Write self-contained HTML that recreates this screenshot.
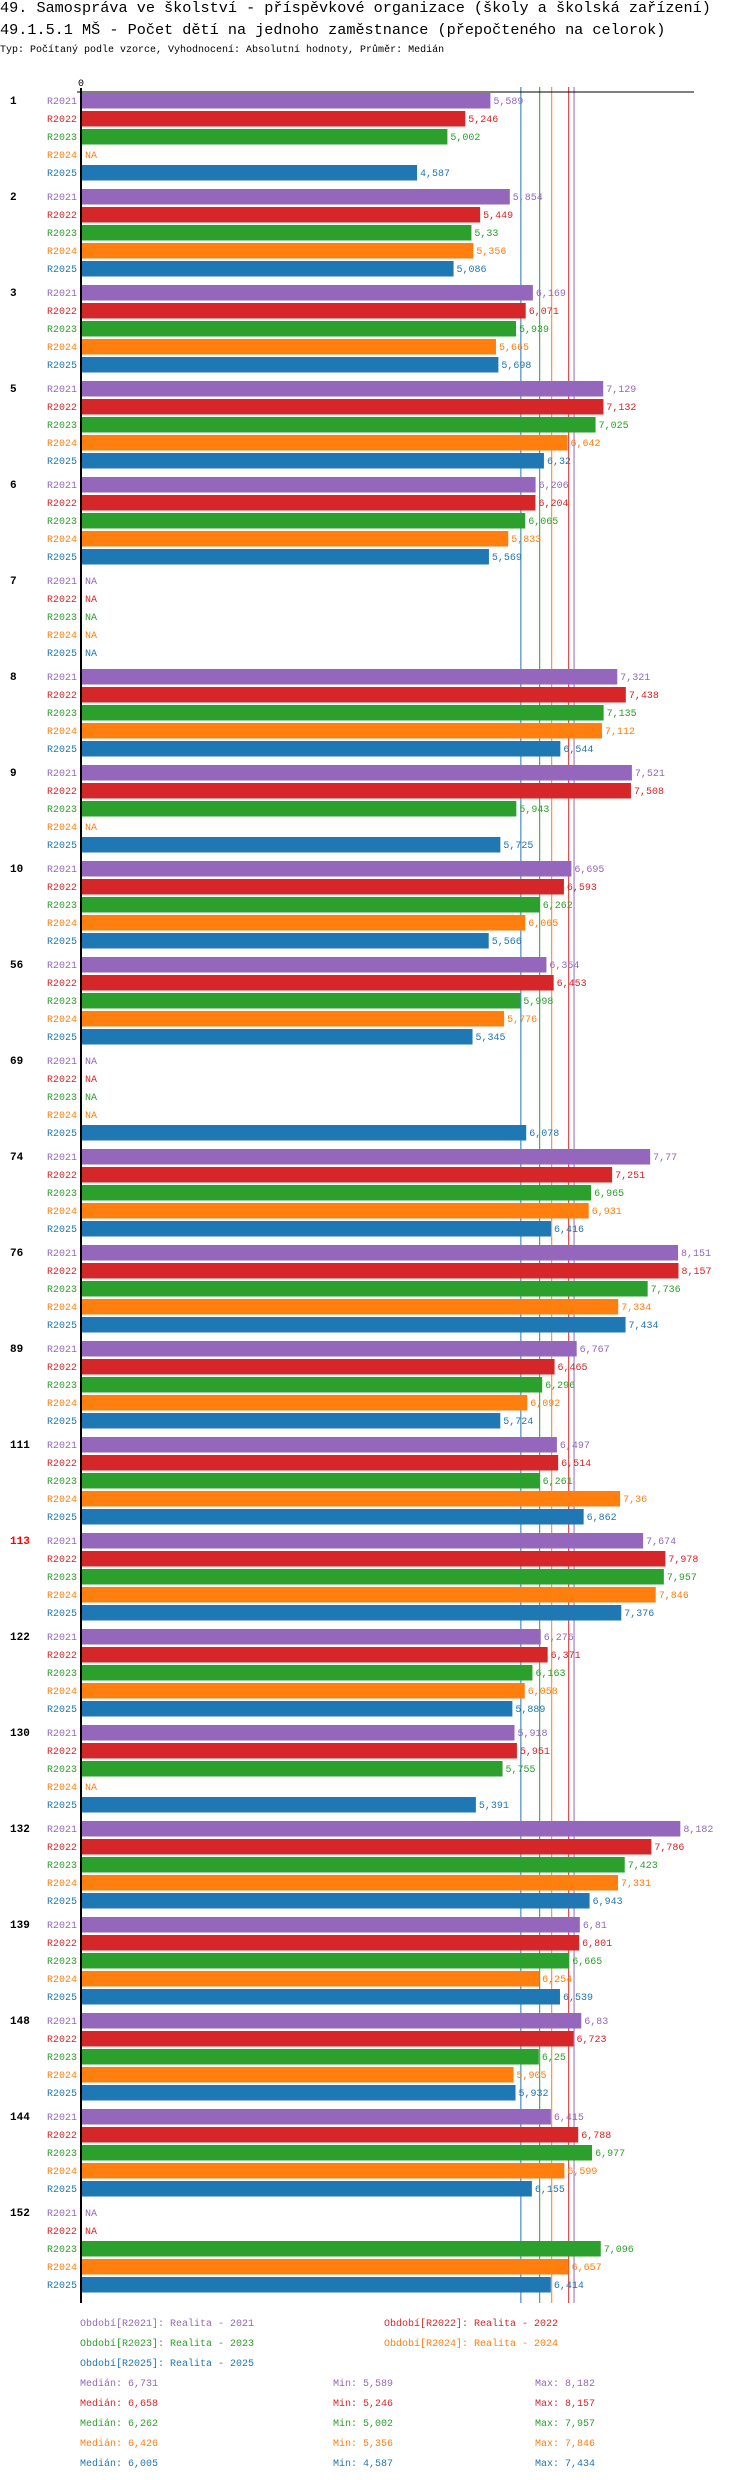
<!DOCTYPE html>
<html><head><meta charset="utf-8">
<style>
body{margin:0;background:#fff;width:750px;height:2480px;overflow:hidden;font-family:"Liberation Mono","DejaVu Sans Mono",monospace;}
.t{position:absolute;left:0;white-space:nowrap;color:#000}
</style></head>
<body>
<div class="t" style="top:-1px;font-size:15.2px;">49. Samospráva ve školství - příspěvkové organizace (školy a školská zařízení)</div>
<div class="t" style="top:21px;font-size:15.2px;">49.1.5.1 MŠ - Počet dětí na jednoho zaměstnance (přepočteného na celorok)</div>
<div class="t" style="top:45px;font-size:10px;">Typ: Počítaný podle vzorce, Vyhodnocení: Absolutní hodnoty, Průměr: Medián</div>
<svg id="chart" width="750" height="2480" style="position:absolute;left:0;top:0" font-family="Liberation Mono, monospace" font-size="10"></svg>
<script>
const groups=["1","2","3","5","6","7","8","9","10","56","69","74","76","89","111","113","122","130","132","139","148","144","152"];
const seriesNames=["R2021","R2022","R2023","R2024","R2025"];
const colors=["#9467bd","#d62728","#2ca02c","#ff7f0e","#1f77b4"];
const r2021=[5.589,5.854,6.169,7.129,6.206,null,7.321,7.521,6.695,6.354,null,7.77,8.151,6.767,6.497,7.674,6.276,5.918,8.182,6.81,6.83,6.415,null];
const r2022=[5.246,5.449,6.071,7.132,6.204,null,7.438,7.508,6.593,6.453,null,7.251,8.157,6.465,6.514,7.978,6.371,5.951,7.786,6.801,6.723,6.788,null];
const r2023=[5.002,5.33,5.939,7.025,6.065,null,7.135,5.943,6.262,5.998,null,6.965,7.736,6.296,6.261,7.957,6.163,5.755,7.423,6.665,6.25,6.977,7.096];
const r2024=[null,5.356,5.665,6.642,5.833,null,7.112,null,6.065,5.776,null,6.931,7.334,6.092,7.36,7.846,6.058,null,7.331,6.254,5.905,6.599,6.657];
const r2025=[4.587,5.086,5.698,6.32,5.569,null,6.544,5.725,5.566,5.345,6.078,6.416,7.434,5.724,6.862,7.376,5.889,5.391,6.943,6.539,5.932,6.155,6.414];
const medians=[6.731,6.658,6.262,6.426,6.005];
const mins=[5.589,5.246,5.002,5.356,4.587];
const maxs=[8.182,8.157,7.957,7.846,7.434];
const series=[r2021,r2022,r2023,r2024,r2025];
const highlightGroup="113";

const NS="http://www.w3.org/2000/svg";
const svg=document.getElementById('chart');
const X0=81,SCALE=73.25,TOP=92,ROW=18,GROUP=96;
const x=v=>X0+v*SCALE;
const fmt=v=>String(v).replace('.',',');
function mk(tag,attrs,txt){const e=document.createElementNS(NS,tag);for(const k in attrs)e.setAttribute(k,attrs[k]);if(txt!=null)e.textContent=txt;svg.appendChild(e);return e;}
const bottom=TOP+groups.length*GROUP+3;
medians.forEach((m,i)=>{const l=mk('line',{x1:x(m),x2:x(m),y1:87,y2:bottom,stroke:colors[i],'stroke-width':1});

});
groups.forEach((g,gi)=>{
  const gy=TOP+gi*GROUP;
  const gl=mk('text',{x:10,y:gy+12,'font-weight':'bold',fill:g===highlightGroup?'#ff0000':'#000','font-size':'11'},g);
  
  
  series.forEach((s,si)=>{
    const ry=gy+si*ROW;
    const lab=mk('text',{x:77,y:ry+12,'text-anchor':'end',fill:colors[si]},seriesNames[si]);
    
    
    const v=s[gi];
    if(v==null){
      const na=mk('text',{x:85,y:ry+12,fill:colors[si]},'NA');
      
      
    } else {
      const b=mk('rect',{x:X0+1,y:ry+1,width:x(v)-X0-1,height:15.5,fill:colors[si]});
      
      
      const vl=mk('text',{x:x(v)+3,y:ry+12,fill:colors[si]},fmt(v));
      
      
    }
  });
});
const ax=mk('line',{x1:77,x2:694,y1:92,y2:92,stroke:'#000','stroke-width':1});


const ay=mk('line',{x1:81,x2:81,y1:88,y2:bottom,stroke:'#000','stroke-width':2});


const z=mk('text',{x:81,y:86,'text-anchor':'middle',fill:'#000'},'0');


const legPos=[[80,2326],[384,2326],[80,2346],[384,2346],[80,2366]];
seriesNames.forEach((n,i)=>{
  const t=mk('text',{x:legPos[i][0],y:legPos[i][1],fill:colors[i]},'Období['+n+']: Realita - '+n.slice(1));
  
  
  const yy=2386+i*20;
  const a=mk('text',{x:80,y:yy,fill:colors[i]},'Medián: '+fmt(medians[i]));
  
  
  const b=mk('text',{x:333,y:yy,fill:colors[i]},'Min: '+fmt(mins[i]));
  
  
  const c=mk('text',{x:535,y:yy,fill:colors[i]},'Max: '+fmt(maxs[i]));
  
  
});
</script>
</body></html>
